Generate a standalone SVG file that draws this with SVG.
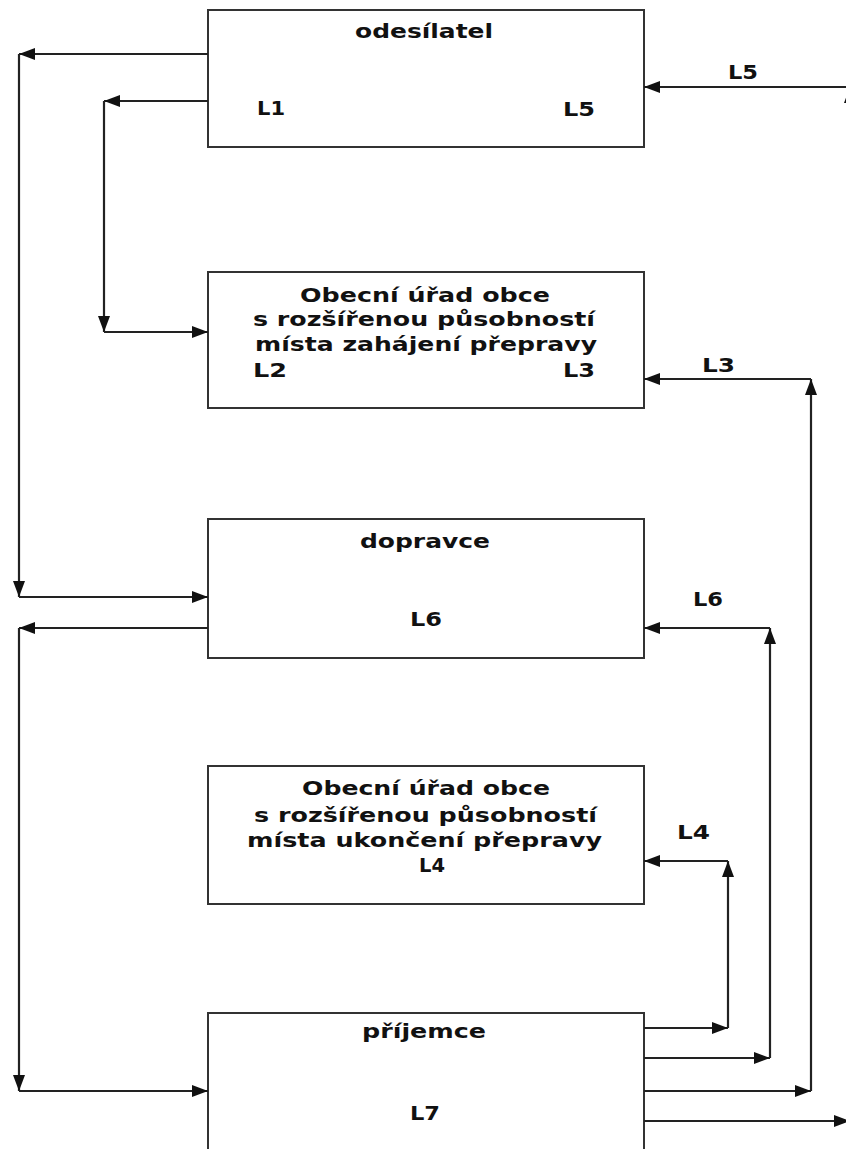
<svg xmlns="http://www.w3.org/2000/svg" width="846" height="1149" viewBox="0 0 846 1149">
<style>
.box{fill:#fff;stroke:#333;stroke-width:2}
.t{font-family:"DejaVu Sans","Verdana",sans-serif;font-weight:bold;font-size:20px;fill:#111}
.c line{stroke:#222;stroke-width:2.2;marker-end:url(#ah)}
</style>
<defs>
<marker id="ah" markerUnits="userSpaceOnUse" markerWidth="17" markerHeight="13" refX="16" refY="6" orient="auto" viewBox="0 0 17 13">
<path d="M0,0 L16,6 L0,12 z" fill="#111"/>
</marker>
</defs>
<rect width="846" height="1149" fill="#fff"/>
<g id="odesilatel">
<rect class="box" x="208" y="10" width="436" height="137"/>
<text class="t" x="355" y="38" textLength="138" lengthAdjust="spacingAndGlyphs">odesílatel</text>
<text class="t" x="257" y="115" textLength="28" lengthAdjust="spacingAndGlyphs">L1</text>
<text class="t" x="563" y="116" textLength="32" lengthAdjust="spacingAndGlyphs">L5</text>
</g>
<g id="urad-zahajeni">
<rect class="box" x="208" y="272" width="436" height="136"/>
<text class="t" x="300" y="302" textLength="250" lengthAdjust="spacingAndGlyphs">Obecní úřad obce</text>
<text class="t" x="253" y="326" textLength="342" lengthAdjust="spacingAndGlyphs">s rozšířenou působností</text>
<text class="t" x="255" y="351" textLength="342" lengthAdjust="spacingAndGlyphs">místa zahájení přepravy</text>
<text class="t" x="253" y="377" textLength="34" lengthAdjust="spacingAndGlyphs">L2</text>
<text class="t" x="563" y="377" textLength="32" lengthAdjust="spacingAndGlyphs">L3</text>
</g>
<g id="dopravce">
<rect class="box" x="208" y="519" width="436" height="139"/>
<text class="t" x="360" y="548" textLength="130" lengthAdjust="spacingAndGlyphs">dopravce</text>
<text class="t" x="410" y="626" textLength="32" lengthAdjust="spacingAndGlyphs">L6</text>
</g>
<g id="urad-ukonceni">
<rect class="box" x="208" y="766" width="436" height="138"/>
<text class="t" x="302" y="795" textLength="248" lengthAdjust="spacingAndGlyphs">Obecní úřad obce</text>
<text class="t" x="254" y="822" textLength="343" lengthAdjust="spacingAndGlyphs">s rozšířenou působností</text>
<text class="t" x="247" y="847" textLength="355" lengthAdjust="spacingAndGlyphs">místa ukončení přepravy</text>
<text class="t" x="419" y="872" textLength="26" lengthAdjust="spacingAndGlyphs">L4</text>
</g>
<g id="prijemce">
<rect class="box" x="208" y="1013" width="436" height="160"/>
<text class="t" x="362" y="1038" textLength="124" lengthAdjust="spacingAndGlyphs">příjemce</text>
<text class="t" x="410" y="1120" textLength="30" lengthAdjust="spacingAndGlyphs">L7</text>
</g>
<g id="connectors" class="c">
<line x1="208" y1="54" x2="19" y2="54"/>
<line x1="19" y1="54" x2="19" y2="597"/>
<line x1="19" y1="597" x2="208" y2="597"/>
<line x1="208" y1="101" x2="104" y2="101"/>
<line x1="104" y1="101" x2="104" y2="332"/>
<line x1="104" y1="332" x2="208" y2="332"/>
<line x1="208" y1="628" x2="19" y2="628"/>
<line x1="19" y1="628" x2="19" y2="1091"/>
<line x1="19" y1="1091" x2="208" y2="1091"/>
<line x1="644" y1="1028" x2="728" y2="1028"/>
<line x1="728" y1="1028" x2="728" y2="861"/>
<line x1="728" y1="861" x2="644" y2="861"/>
<line x1="644" y1="1058" x2="770" y2="1058"/>
<line x1="770" y1="1058" x2="770" y2="628"/>
<line x1="770" y1="628" x2="644" y2="628"/>
<line x1="644" y1="1091" x2="811" y2="1091"/>
<line x1="811" y1="1091" x2="811" y2="379"/>
<line x1="811" y1="379" x2="644" y2="379"/>
<line x1="644" y1="1121" x2="850" y2="1121"/>
<line x1="850" y1="1121" x2="850" y2="87"/>
<line x1="850" y1="87" x2="644" y2="87"/>
<text class="t" x="728" y="79" textLength="30" lengthAdjust="spacingAndGlyphs">L5</text>
<text class="t" x="702" y="372" textLength="33" lengthAdjust="spacingAndGlyphs">L3</text>
<text class="t" x="693" y="606" textLength="30" lengthAdjust="spacingAndGlyphs">L6</text>
<text class="t" x="677" y="839" textLength="33" lengthAdjust="spacingAndGlyphs">L4</text>
</g>
</svg>
